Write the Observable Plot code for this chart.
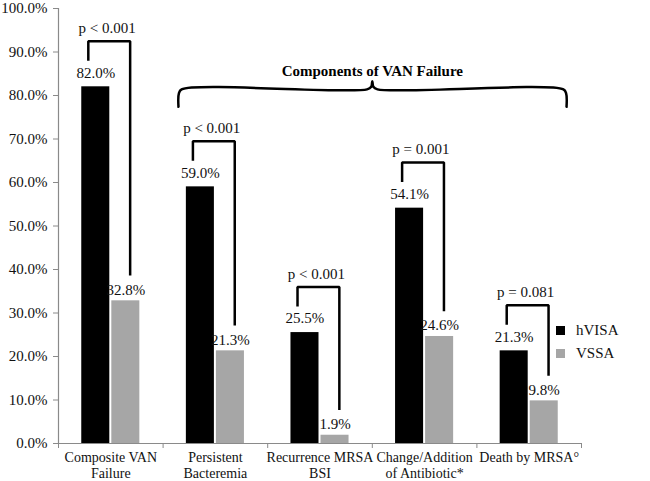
<!DOCTYPE html>
<html>
<head>
<meta charset="utf-8">
<script src="https://cdn.jsdelivr.net/npm/d3@7"></script>
<script src="https://cdn.jsdelivr.net/npm/@observablehq/plot@0.6"></script>
<style>
  html, body { margin: 0; padding: 0; background: #fff; }
  #wrap { position: relative; width: 650px; height: 481px; font-family: "Liberation Serif", serif; }
  #wrap svg, #wrap svg text, #wrap svg g { font-family: "Liberation Serif", serif !important; }
  #legend { position: absolute; left: 556px; top: 319px; font-size: 15px; color: #111; font-family: "Liberation Serif", serif; }
  #legend .item { display: flex; align-items: center; height: 23px; }
  #legend .sw { width: 9px; height: 9px; margin-right: 11px; }
</style>
</head>
<body>
<div id="wrap"></div>
<script>
const categories = ["Composite VAN\nFailure", "Persistent\nBacteremia", "Recurrence MRSA\nBSI", "Change/Addition\nof Antibiotic*", "Death by MRSA°"];
const series = ["hVISA", "VSSA"];
const hVISA = [82.0, 59.0, 25.5, 54.1, 21.3];
const VSSA = [32.8, 21.3, 1.9, 24.6, 9.8];
const pValues = ["p < 0.001", "p < 0.001", "p < 0.001", "p = 0.001", "p = 0.081"];
const yTicks = [0, 10, 20, 30, 40, 50, 60, 70, 80, 90, 100];
const braceLabel = "Components of VAN Failure";
const colors = ["#000000", "#a6a6a6"];

// layout (in category units)
const barW = 0.268, gap = 0.0096;
const idx = categories.map((_, i) => i);
const rows = idx.flatMap(i => [
  {i, series: series[0], value: hVISA[i], x1: i - gap - barW, x2: i - gap, dy: -14},
  {i, series: series[1], value: VSSA[i], x1: i + gap, x2: i + gap + barW, dy: -11}
]);
const brackets = idx.map(i => {
  const top = hVISA[i] + 10.5;
  return {i, xl: i - 0.215, xr: i + 0.185, yl: hVISA[i] + 6, yr: VSSA[i] + 5.8, top, p: pValues[i]};
});
const bracketPath = brackets.flatMap(b => [
  {i: b.i, x: b.xl, y: b.yl},
  {i: b.i, x: b.xl, y: b.top},
  {i: b.i, x: b.xr, y: b.top},
  {i: b.i, x: b.xr, y: b.yr}
]);
// brace spanning the four component categories (1..4)
const bStart = 1 - 0.353, bEnd = 4 + 0.357, bMid = 2.5, bY = 81.4, bDrop = 4.0, bPeak = 1.9;
const bracePath = [
  {x: bStart, y: bY - bDrop},
  {x: bStart + 0.004, y: bY - 0.9},
  {x: bStart + 0.03, y: bY},
  {x: bMid - 0.05, y: bY},
  {x: bMid - 0.01, y: bY + 0.6},
  {x: bMid, y: bY + bPeak},
  {x: bMid + 0.01, y: bY + 0.6},
  {x: bMid + 0.05, y: bY},
  {x: bEnd - 0.03, y: bY},
  {x: bEnd - 0.004, y: bY - 0.9},
  {x: bEnd, y: bY - bDrop}
];
const boundaries = d3.range(-0.5, categories.length, 1);
const FONT = "'Liberation Serif', serif";

const chart = Plot.plot({
  width: 650,
  height: 481,
  marginLeft: 58,
  marginRight: 69,
  marginTop: 8,
  marginBottom: 38,
  style: "font-family: 'Liberation Serif', serif; font-size: 15px; color: #111; background: #fff;",
  x: {type: "linear", domain: [-0.5, categories.length - 0.5]},
  y: {domain: [0, 100]},
  color: {domain: series, range: colors},
  marks: [
    Plot.rectY(rows, {x1: "x1", x2: "x2", y1: 0, y2: "value", fill: "series"}),
    Plot.text(rows.filter(r => r.series === series[0]), {x: d => (d.x1 + d.x2) / 2, y: "value", text: d => d.value.toFixed(1) + "%", dy: -14, fill: "#111", fontSize: 15, fontFamily: FONT}),
    Plot.text(rows.filter(r => r.series === series[1]), {x: d => (d.x1 + d.x2) / 2, y: "value", text: d => d.value.toFixed(1) + "%", dy: -11, fill: "#111", fontSize: 15, fontFamily: FONT}),
    Plot.line(bracketPath, {x: "x", y: "y", z: "i", stroke: "#000", strokeWidth: 2.5, strokeLinejoin: "miter", strokeLinecap: "butt"}),
    Plot.text(brackets, {x: b => (b.xl + b.xr) / 2 - 0.02, y: "top", text: "p", dy: -13, fill: "#111", fontSize: 15, fontFamily: FONT, ariaLabel: "pval"}),
    Plot.line(bracePath, {x: "x", y: "y", stroke: "#000", strokeWidth: 2.5, curve: "catmull-rom"}),
    Plot.text([braceLabel], {x: bMid, y: bY + bPeak + 2.5, text: d => d, fontWeight: "bold", fontSize: 15, fontFamily: FONT, fill: "#000", dy: 1}),
    Plot.ruleX([-0.5], {y1: 0, y2: 100, stroke: "#8a8a8a", strokeWidth: 1.2}),
    Plot.ruleY([0], {x1: -0.5, x2: categories.length - 0.5, stroke: "#8a8a8a", strokeWidth: 1.2}),
    Plot.axisY({ticks: yTicks, tickFormat: d => d.toFixed(1) + "%", tickSize: 5, tickPadding: 6, stroke: "#8a8a8a", fill: "#111", label: null, fontSize: 15, fontFamily: FONT}),
    Plot.axisX({ticks: boundaries, tickSize: 5, tickFormat: () => "", stroke: "#8a8a8a", label: null}),
    Plot.axisX({ticks: idx, tickSize: 0, tickPadding: 8, tickFormat: i => categories[i], fill: "#111", label: null, fontSize: 14, fontFamily: FONT, lineHeight: 1.1})
  ]
});

const wrap = document.getElementById("wrap");
wrap.appendChild(chart);

// italic "p" in the p-value labels
chart.querySelectorAll('g[aria-label="pval"] text').forEach(el => {
  const t = el.textContent;
  el.textContent = "";
  const ns = "http://www.w3.org/2000/svg";
  const ts = document.createElementNS(ns, "tspan");
  ts.setAttribute("font-style", "italic");
  ts.textContent = t.slice(0, 1);
  el.appendChild(ts);
  el.appendChild(document.createTextNode(t.slice(1)));
});

// legend
const legend = document.createElement("div");
legend.id = "legend";
series.forEach((s, k) => {
  const item = document.createElement("div");
  item.className = "item";
  const sw = document.createElement("span");
  sw.className = "sw";
  sw.style.background = colors[k];
  const lab = document.createElement("span");
  lab.textContent = s;
  item.appendChild(sw);
  item.appendChild(lab);
  legend.appendChild(item);
});
wrap.appendChild(legend);
</script>
</body>
</html>
